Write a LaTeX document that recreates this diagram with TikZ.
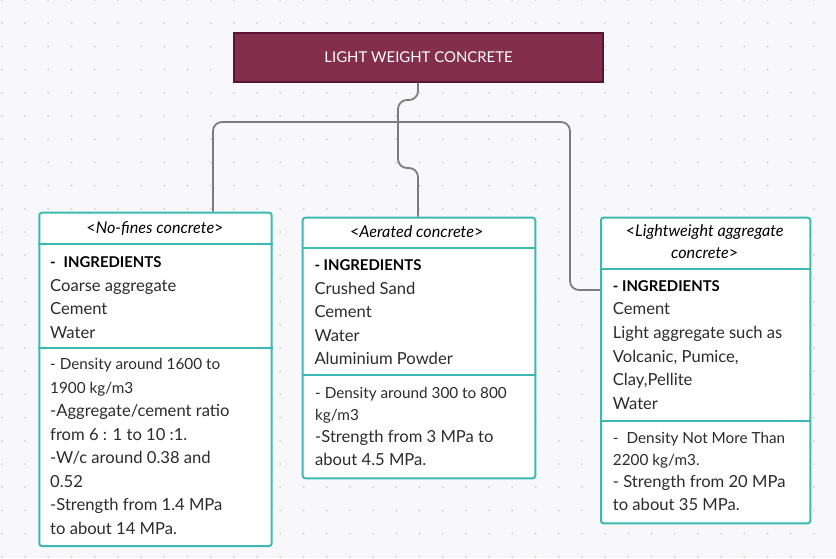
\documentclass[tikz,border=0pt]{standalone}
\usepackage{fontspec}
\setmainfont{Lato}
\usetikzlibrary{calc}
\definecolor{maroonf}{HTML}{832F4C}
\definecolor{maroonedge}{HTML}{5A1530}
\definecolor{tealb}{HTML}{3DB9B4}
\definecolor{connc}{HTML}{7C7C7C}
\definecolor{txt}{HTML}{2C2C2C}
\definecolor{bgc}{HTML}{F8F8FA}
\definecolor{dotc}{HTML}{D6D6DC}
\begin{document}
\begin{tikzpicture}[x=1pt,y=-1pt,
  boxst/.style={draw=tealb, line width=2pt, fill=white, rounded corners=2.5pt, inner sep=0, anchor=north west},
  divst/.style={draw=tealb, line width=2pt},
  conn/.style={draw=connc, line width=1.8pt, rounded corners=9pt},
  ln/.style={anchor=base west, inner sep=0, font=\fontsize{16.6}{18}\selectfont, text=txt},
  sm/.style={anchor=base west, inner sep=0, font=\fontsize{15.3}{18}\selectfont, text=txt},
  hd/.style={anchor=base west, inner sep=0, font=\fontsize{14.9}{18}\selectfont\bfseries, text=black},
  ttl/.style={anchor=base, inner sep=0, font=\fontsize{16.2}{18}\selectfont, text=black}]
\fill[bgc] (0,0) rectangle (836,558);
\useasboundingbox (0,0) rectangle (836,558);
\foreach \i in {0,...,36} \foreach \j in {0,...,24} \fill[dotc] (1.9+23.2*\i, 23.2*\j) circle (1.15pt);

% top box
\node[draw=maroonedge, fill=maroonf, line width=1.5pt, inner sep=0, anchor=north west,
  minimum width=369pt, minimum height=48.7pt, text=white, font=\fontsize{14.9}{18}\selectfont]
  (top) at (233.3,32.3) {LIGHT WEIGHT CONCRETE};

% boxes
\node[boxst, minimum width=232.4pt, minimum height=333.3pt] (b1) at (38.3,211.7) {};
\node[boxst, minimum width=232.6pt, minimum height=260.6pt] (b2) at (301.7,216.7) {};
\node[boxst, minimum width=209.3pt, minimum height=305.6pt] (b3) at (600,216.7) {};

% connectors
\coordinate (c1) at (418,100);
\coordinate (c2) at (398,100);
\coordinate (c3) at (398,168);
\coordinate (c4) at (418,168);
\draw[conn] (top.south -| c1) -- (c1) -- (c2) -- (c3) -- (c4) -- (b2.north -| c4);
\coordinate (d1) at (213,122);
\coordinate (d2) at (570,122);
\coordinate (d3) at (570,290);
\draw[conn] (b1.north -| d1) -- (d1) -- (d2) -- (d3) -- (b3.west |- d3);

% dividers
\draw[divst] (b1.west |- 0,244.3) -- (b1.east |- 0,244.3);
\draw[divst] (b1.west |- 0,348.3) -- (b1.east |- 0,348.3);
\draw[divst] (b2.west |- 0,248.3) -- (b2.east |- 0,248.3);
\draw[divst] (b2.west |- 0,375) -- (b2.east |- 0,375);
\draw[divst] (b3.west |- 0,269.3) -- (b3.east |- 0,269.3);
\draw[divst] (b3.west |- 0,420.8) -- (b3.east |- 0,420.8);

% box 1 text
\node[ttl] (t1) at (155,233.3) {<\textit{No-fines concrete}>};
\node[hd] (h1) at (50,267.7) {-\hspace{8pt}INGREDIENTS};
\foreach \t [count=\i from 0] in {Coarse aggregate, Cement, Water}
  \node[ln] (b1i\i) at (50,291+23.5*\i) {\t};
\node[sm] (b1d0) at (50,369.5) {- Density around 1600 to};
\node[sm] (b1d1) at (50,393) {1900 kg/m3};
\foreach \t [count=\i from 2] in {-Aggregate/cement ratio,
  from 6 : 1 to 10 :1., -W/c around 0.38 and, 0.52, -Strength from 1.4 MPa, to about 14 MPa.}
  \node[ln] (b1p\i) at (50,369.5+23.5*\i) {\t};

% box 2 text
\node[ttl] (t2) at (416.7,237.7) {<\textit{Aerated concrete}>};
\node[hd] (h2) at (314.3,270.7) {- INGREDIENTS};
\foreach \t [count=\i from 0] in {Crushed Sand, Cement, Water, Aluminium Powder}
  \node[ln] (b2i\i) at (314.3,294.2+23.4*\i) {\t};
\node[sm] (b2d0) at (315,398.3) {- Density around 300 to 800};
\node[sm] (b2d1) at (315,420.6) {kg/m3};
\node[ln] (b2p2) at (315,442.9) {-Strength from 3 MPa to};
\node[ln] (b2p3) at (315,465.2) {about 4.5 MPa.};

% box 3 text
\node[ttl] (t3a) at (704.7,236.7) {<\textit{Lightweight aggregate}};
\node[ttl] (t3b) at (704.7,258.3) {\textit{concrete}>};
\node[hd] (h3) at (612.7,291) {- INGREDIENTS};
\foreach \t [count=\i from 0] in {Cement, Light aggregate such as, {Volcanic, Pumice,}, {Clay,Pellite}, Water}
  \node[ln] (b3i\i) at (612.7,314.8+23.6*\i) {\t};
\node[sm] (b3d0) at (612.7,443.3) {-\hspace{8pt}Density Not More Than};
\node[sm] (b3d1) at (612.7,465.6) {2200 kg/m3.};
\node[ln] (b3p2) at (612.7,487.9) {- Strength from 20 MPa};
\node[ln] (b3p3) at (612.7,510.2) {to about 35 MPa.};
\end{tikzpicture}
\end{document}
